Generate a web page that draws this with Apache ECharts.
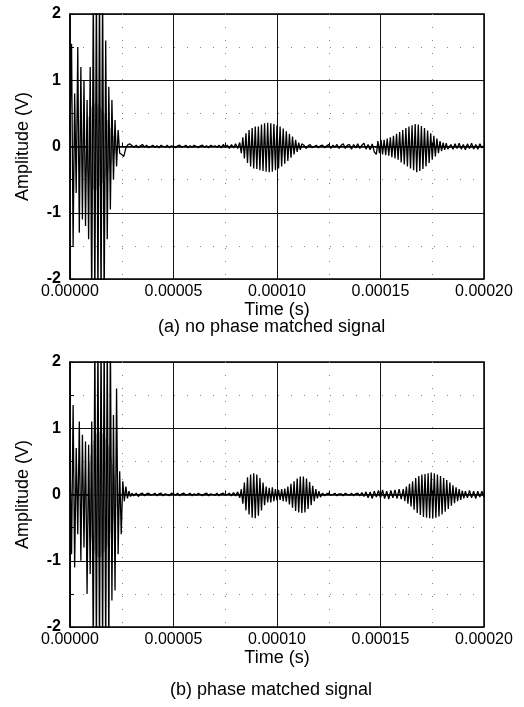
<!DOCTYPE html>
<html>
<head>
<meta charset="utf-8">
<script src="https://cdn.jsdelivr.net/npm/echarts@6/dist/echarts.min.js"></script>
<style>
  html, body { margin: 0; padding: 0; background: #fff; }
  #chart { width: 524px; height: 707px; }
</style>
</head>
<body>
<div id="chart"></div>
<script>
// time in microseconds, each segment = start, step, sampled amplitudes (V)
const xTicks = [0, 50, 100, 150, 200]
const yTicks = [-2, -1, 0, 1, 2]

// (a) no phase matched signal
const aBurst = { t0: 0, dt: 0.75, v: [0.2, 1.55, -1.5, 0.8, -0.7, 1.5, -1.3, 1.2, -1.1, 1.0, -1.2, 0.7, -1.4, 1.2, -2.4, 2.4, -2.4, 2.4, -2.4, 2.4, -2.4, 2.4, -2.4, 1.6, -1.4, 0.9, -0.95, 0.7, -0.5, 0.4, -0.3, 0.25, -0.1] }
const aFine = { t0: 8, dt: 0.25, v: [0.3, -0.35, 0.4, -0.4, 0.45, -0.45, 0.5, -0.5,
  0.55, -0.6, 0.6, -0.62, 0.62, -0.65, 0.65, -0.65,
  0.65, -0.66, 0.66, -0.66, 0.64, -0.64, 0.62, -0.63,
  0.6, -0.6, 0.6, -0.58, 0.57, -0.56, 0.55, -0.55,
  0.52, -0.5, 0.5, -0.48, 0.46, -0.45, 0.44, -0.42,
  0.4, -0.38, 0.36, -0.34, 0.32, -0.3, 0.28, -0.26,
  0.24, -0.22, 0.2, -0.18, 0.16, -0.14, 0.12, -0.1, 0.08] }
const aQuiet1 = { t0: 25, dt: 1, v: [-0.12, -0.15, -0.02, 0.03, 0.04, 0.01,
  -0.01, 0.02, -0.02, 0.01, 0.03, -0.01, 0.02, -0.02, 0.0, 0.02,
  -0.01, 0.01, -0.02, 0.02, 0.0, -0.01, 0.02, -0.02, 0.01, 0.0,
  -0.02, 0.01, 0.02, -0.01, 0.0, 0.02, -0.02, 0.01, -0.01, 0.02,
  0.0, -0.02, 0.01, 0.02, -0.01, 0.01, -0.02, 0.02, 0.0, 0.01,
  -0.01, 0.02, -0.02, 0.03, -0.01, 0.02, -0.03, 0.03, -0.02, 0.04, -0.03] }
const aPacket1 = { t0: 82, dt: 0.75, v: [0.06, -0.1, 0.14, -0.18, 0.2, -0.25, 0.25, -0.3, 0.28, -0.33,
  0.3, -0.34, 0.3, -0.36, 0.33, -0.37, 0.35, -0.38, 0.36, -0.39,
  0.35, -0.38, 0.34, -0.36, 0.32, -0.33, 0.3, -0.3, 0.27, -0.26,
  0.23, -0.22, 0.19, -0.17, 0.15, -0.12, 0.1, -0.08, 0.06, -0.05, 0.04] }
const aQuiet2 = { t0: 113, dt: 1, v: [0.02, -0.03, 0.01, 0.03, -0.02, 0.0, 0.02, -0.02, 0.01, 0.02,
  -0.02, 0.01, 0.03, -0.03, 0.02, -0.01, 0.03, -0.03, 0.02, 0.04,
  -0.03, 0.02, 0.03, -0.04, 0.03, -0.02, 0.04, -0.03, 0.02, 0.05,
  -0.04, 0.03, -0.05, 0.04, -0.08] }
const aPacket2 = { t0: 148, dt: 0.75, v: [-0.12, 0.08, -0.1, 0.1, -0.12, 0.1, -0.13, 0.12, -0.14, 0.14,
  -0.16, 0.16, -0.18, 0.19, -0.2, 0.22, -0.24, 0.25, -0.27, 0.28,
  -0.3, 0.3, -0.33, 0.32, -0.36, 0.34, -0.39, 0.33, -0.37, 0.31,
  -0.34, 0.28, -0.3, 0.24, -0.25, 0.2, -0.2, 0.16, -0.15, 0.12,
  -0.1, 0.08, -0.07, 0.06, -0.05, 0.05, -0.04] }
const aQuiet3 = { t0: 184, dt: 1, v: [0.03, -0.04, 0.04, -0.03, 0.05, -0.04, 0.03, -0.05, 0.04, -0.03, 0.05, -0.04, 0.03, -0.04, 0.04, -0.02, 0.01] }

// (b) phase matched signal
const bBurst = { t0: 0, dt: 0.75, v: [0.6, -0.9, 1.35, -1.1, 0.7, -0.6, 1.1, -1.0, 0.9, -0.8,
  0.8, -1.5, 0.75, -1.2, 1.1, -2.4, 2.4, -2.4, 2.4, -2.4,
  2.4, -2.4, 2.4, -2.4, 2.4, -2.4, 2.4, -1.6, 1.2, -1.45,
  1.6, -0.9, 0.35, -0.6, 0.2, -0.1, 0.12, -0.06, 0.05, -0.03, 0.02, -0.02] }
const bFine = { t0: 9, dt: 0.25, v: [0.4, -0.45, 0.5, -0.55, 0.6, -0.65, 0.7, -0.72,
  0.75, -0.8, 0.82, -0.85, 0.88, -0.9, 0.9, -0.92,
  0.92, -0.94, 0.95, -0.95, 0.95, -0.95, 0.94, -0.94,
  0.93, -0.92, 0.92, -0.9, 0.9, -0.88, 0.87, -0.86,
  0.85, -0.83, 0.82, -0.8, 0.78, -0.76, 0.74, -0.72,
  0.7, -0.66, 0.62, -0.58, 0.55, -0.5, 0.46, -0.42,
  0.38, -0.34, 0.3, -0.26, 0.22, -0.18, 0.14, -0.1, 0.06] }
const bQuiet1 = { t0: 32, dt: 1, v: [0.02, -0.03, 0.01, 0.02, -0.02, 0.01, 0.02, -0.01, 0.0, 0.02,
  -0.02, 0.01, 0.02, -0.02, 0.01, 0.0, -0.02, 0.02, 0.01, -0.01,
  0.02, -0.02, 0.01, 0.02, -0.01, 0.0, 0.02, -0.02, 0.01, -0.01,
  0.02, 0.0, -0.02, 0.01, 0.02, -0.02, 0.01, 0.0, -0.01, 0.02,
  -0.02, 0.01, 0.02, -0.01, 0.0, 0.02, -0.02, 0.03, -0.02, 0.04, -0.05] }
const bPacket1 = { t0: 82.75, dt: 0.75, v: [0.08, -0.14, 0.18, -0.24, 0.26, -0.3, 0.3, -0.35, 0.32, -0.36,
  0.3, -0.32, 0.25, -0.24, 0.18, -0.16, 0.12, -0.12, 0.1, -0.12,
  0.11, -0.1, 0.08, -0.09, 0.07, -0.08, 0.08, -0.1, 0.09, -0.11,
  0.12, -0.15, 0.16, -0.2, 0.2, -0.25, 0.24, -0.27, 0.27, -0.28,
  0.27, -0.27, 0.24, -0.22, 0.19, -0.16, 0.13, -0.1, 0.08, -0.06, 0.05, -0.04] }
const bQuiet2 = { t0: 122, dt: 1, v: [0.02, -0.02, 0.01, 0.02, -0.01, 0.0, 0.02, -0.02, 0.01, 0.01,
  -0.02, 0.02, 0.0, -0.01, 0.02, -0.02, 0.01, 0.02, -0.02, 0.03,
  -0.03, 0.04, -0.05, 0.04, -0.06, 0.05, -0.04, 0.06, -0.05, 0.07,
  -0.06, 0.05, -0.07, 0.06, -0.05, 0.07, -0.06, 0.08, -0.07] }
const bPacket2 = { t0: 161, dt: 0.75, v: [0.08, -0.1, 0.12, -0.14, 0.16, -0.18, 0.2, -0.23, 0.25, -0.28,
  0.28, -0.31, 0.3, -0.34, 0.31, -0.35, 0.32, -0.36, 0.33, -0.36,
  0.32, -0.35, 0.3, -0.33, 0.28, -0.3, 0.25, -0.26, 0.22, -0.22,
  0.18, -0.17, 0.14, -0.13, 0.11, -0.1, 0.08, -0.08, 0.06, -0.06] }
const bQuiet3 = { t0: 191, dt: 1, v: [0.05, -0.05, 0.06, -0.05, 0.05, -0.06, 0.05, -0.04, 0.05, -0.04] }

const FONT = 'Liberation Sans, Arial, sans-serif'

function toPairs(segs) {
  const out = []
  segs.forEach(s => {
    s.v.forEach((y, i) => out.push([s.t0 + i * s.dt, y]))
  })
  return out
}

function xAxisFor(gi) {
  return {
    type: 'value', gridIndex: gi, min: xTicks[0], max: xTicks[xTicks.length - 1], interval: 50,
    name: 'Time (s)', nameLocation: 'middle', nameGap: 21,
    nameTextStyle: { fontFamily: FONT, fontSize: 18, color: '#000' },
    axisLine: { show: true, lineStyle: { color: '#000', width: 1.5 } },
    axisTick: { show: true, inside: true, length: 4, lineStyle: { color: '#000' } },
    minorTick: { show: true, splitNumber: 2, length: 4, lineStyle: { color: '#000' } },
    axisLabel: { fontFamily: FONT, fontSize: 16, color: '#000', margin: 5,
      formatter: v => (v * 1e-6).toFixed(5) },
    splitLine: { show: true, lineStyle: { color: '#111', width: 1 } },
    minorSplitLine: { show: true, lineStyle: { color: '#888', width: 1, type: [1, 12] } }
  }
}

function yAxisFor(gi) {
  return {
    type: 'value', gridIndex: gi, min: yTicks[0], max: yTicks[yTicks.length - 1], interval: 1,
    name: 'Amplitude (V)', nameLocation: 'middle', nameGap: 38,
    nameTextStyle: { fontFamily: FONT, fontSize: 18, color: '#000' },
    axisLine: { show: true, lineStyle: { color: '#000', width: 1.5 } },
    axisTick: { show: true, inside: true, length: 4, lineStyle: { color: '#000' } },
    minorTick: { show: true, splitNumber: 2, length: 4, lineStyle: { color: '#000' } },
    axisLabel: { fontFamily: FONT, fontSize: 16, fontWeight: 'bold', color: '#000', margin: 9 },
    splitLine: { show: true, lineStyle: { color: '#111', width: 1 } },
    minorSplitLine: { show: true, lineStyle: { color: '#888', width: 1, type: [1, 12] } }
  }
}

function lineSeries(gi, data, color, width) {
  return {
    type: 'line', xAxisIndex: gi, yAxisIndex: gi, data: data,
    showSymbol: false, symbol: 'none', clip: true, silent: true,
    lineStyle: { color: color, width: width }
  }
}

const chart = echarts.init(document.getElementById('chart'), null, { renderer: 'canvas' })
chart.setOption({
  animation: false,
  backgroundColor: '#fff',
  grid: [
    { left: 70, top: 14, width: 414, height: 265, show: true, borderColor: '#000', borderWidth: 1.5 },
    { left: 70, top: 362, width: 414, height: 265, show: true, borderColor: '#000', borderWidth: 1.5 }
  ],
  xAxis: [xAxisFor(0), xAxisFor(1)],
  yAxis: [yAxisFor(0), yAxisFor(1)],
  series: [
    lineSeries(0, toPairs([aFine]), '#a8a8a8', 0.6),
    lineSeries(0, toPairs([aBurst, aQuiet1, aPacket1, aQuiet2, aPacket2, aQuiet3]), '#000', 1.3),
    lineSeries(1, toPairs([bFine]), '#a8a8a8', 0.6),
    lineSeries(1, toPairs([bBurst, bQuiet1, bPacket1, bQuiet2, bPacket2, bQuiet3]), '#000', 1.3)
  ],
  graphic: [
    { type: 'text', left: 158, top: 318, style: { text: '(a) no phase matched signal', font: '18px ' + FONT, fill: '#000' } },
    { type: 'text', left: 170, top: 681, style: { text: '(b) phase matched signal', font: '18px ' + FONT, fill: '#000' } }
  ]
})
</script>
</body>
</html>
